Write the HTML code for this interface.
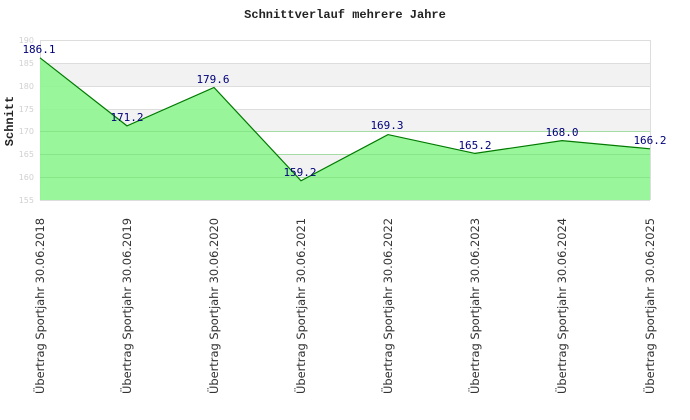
<!DOCTYPE html>
<html><head><meta charset="utf-8"><style>body{margin:0;background:#fff}svg{display:block}</style></head>
<body>
<svg width="690" height="420" xmlns="http://www.w3.org/2000/svg">
<rect width="690" height="420" fill="#fff"/>
<text x="345" y="18" text-anchor="middle" font-family="Liberation Mono, monospace" font-weight="bold" font-size="12" fill="#222">Schnittverlauf mehrere Jahre</text>
<g>
<rect x="40" y="40" width="610" height="160" fill="#fff"/>
<rect x="40" y="63" width="610" height="23" fill="#f2f2f2"/>
<rect x="40" y="109" width="610" height="22" fill="#f2f2f2"/>
<rect x="40" y="154" width="610" height="23" fill="#f2f2f2"/>
<g stroke="#dddddd" stroke-width="1">
<line x1="40" y1="40.5" x2="650" y2="40.5"/>
<line x1="40" y1="63.5" x2="650" y2="63.5"/>
<line x1="40" y1="86.5" x2="650" y2="86.5"/>
<line x1="40" y1="109.5" x2="650" y2="109.5"/>
<line x1="40" y1="131.5" x2="650" y2="131.5"/>
<line x1="40" y1="154.5" x2="650" y2="154.5"/>
<line x1="40" y1="177.5" x2="650" y2="177.5"/>
<line x1="40" y1="200.5" x2="650" y2="200.5"/>
<line x1="40.5" y1="40" x2="40.5" y2="200"/>
<line x1="650.5" y1="40" x2="650.5" y2="200"/>
</g>
<polygon points="40,57.8 127,125.9 214,87.5 301,180.8 388,134.6 475,153.4 562,140.6 650,148.8 650,200 40,200" fill="#8ff58f" fill-opacity="0.9"/>
<g stroke="#7fdc7f" stroke-width="1" opacity="0.6">
<line x1="40" y1="131.5" x2="650" y2="131.5"/><line x1="40" y1="154.5" x2="650" y2="154.5"/><line x1="40" y1="177.5" x2="650" y2="177.5"/>
</g>
<polyline points="40,57.8 127,125.9 214,87.5 301,180.8 388,134.6 475,153.4 562,140.6 650,148.8" fill="none" stroke="#007a00" stroke-width="1.2"/>
</g>
<g font-family="DejaVu Sans, sans-serif" font-size="8" fill="#d0d0d0" text-anchor="end">
<text x="34" y="43">190</text><text x="34" y="66">185</text><text x="34" y="89">180</text><text x="34" y="112">175</text><text x="34" y="134">170</text><text x="34" y="157">165</text><text x="34" y="180">160</text><text x="34" y="203">155</text>
</g>
<text transform="translate(13,121) rotate(-90)" text-anchor="middle" font-family="Liberation Mono, monospace" font-weight="bold" font-size="12" fill="#222">Schnitt</text>
<g font-family="DejaVu Sans Mono, monospace" font-size="11" fill="#00007a" text-anchor="middle">
<text x="39" y="53">186.1</text><text x="127" y="121">171.2</text><text x="213" y="83">179.6</text><text x="300" y="176">159.2</text><text x="387" y="129">169.3</text><text x="475" y="149">165.2</text><text x="562" y="136">168.0</text><text x="650" y="144">166.2</text>
</g>
<g font-family="DejaVu Sans, sans-serif" font-size="11.5" fill="#333">
<text transform="translate(44,394) rotate(-90)" textLength="176" lengthAdjust="spacingAndGlyphs">Übertrag Sportjahr 30.06.2018</text>
<text transform="translate(131,394) rotate(-90)" textLength="176" lengthAdjust="spacingAndGlyphs">Übertrag Sportjahr 30.06.2019</text>
<text transform="translate(218,394) rotate(-90)" textLength="176" lengthAdjust="spacingAndGlyphs">Übertrag Sportjahr 30.06.2020</text>
<text transform="translate(305,394) rotate(-90)" textLength="176" lengthAdjust="spacingAndGlyphs">Übertrag Sportjahr 30.06.2021</text>
<text transform="translate(392,394) rotate(-90)" textLength="176" lengthAdjust="spacingAndGlyphs">Übertrag Sportjahr 30.06.2022</text>
<text transform="translate(479,394) rotate(-90)" textLength="176" lengthAdjust="spacingAndGlyphs">Übertrag Sportjahr 30.06.2023</text>
<text transform="translate(566,394) rotate(-90)" textLength="176" lengthAdjust="spacingAndGlyphs">Übertrag Sportjahr 30.06.2024</text>
<text transform="translate(654,394) rotate(-90)" textLength="176" lengthAdjust="spacingAndGlyphs">Übertrag Sportjahr 30.06.2025</text>
</g>
</svg>
</body></html>
